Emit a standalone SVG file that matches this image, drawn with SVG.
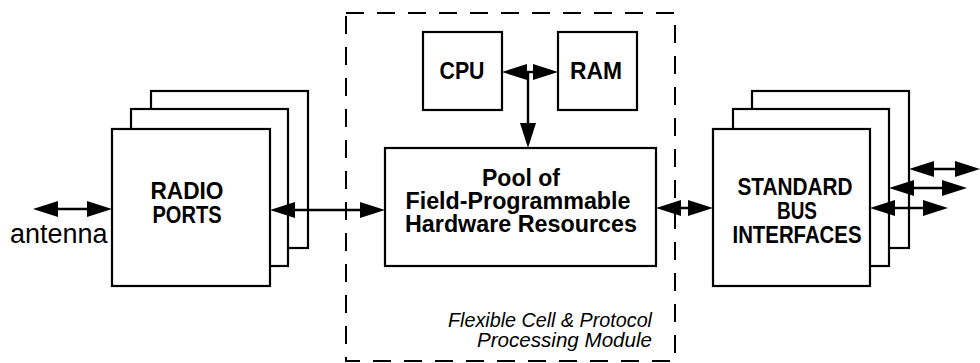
<svg xmlns="http://www.w3.org/2000/svg" width="980" height="363" viewBox="0 0 980 363">
<style>
.box{fill:#fff;stroke:#000;stroke-width:2.2}
.dash{fill:none;stroke:#000;stroke-width:2;stroke-dasharray:18 13}
.lbl{font-family:"Liberation Sans",Arial,sans-serif;font-weight:bold;font-size:23px;fill:#000;text-anchor:middle}
.it{font-family:"Liberation Sans",Arial,sans-serif;font-style:italic;font-size:19.5px;fill:#000;text-anchor:end}
.plain{font-family:"Liberation Sans",Arial,sans-serif;font-size:27px;fill:#000}
.conn line{stroke:#000;stroke-width:2.4}
.conn use{fill:#000}
</style>
<defs>
<path id="head" d="M0,0 L-25,-8 L-25,8 z"/>
</defs>
<rect class="dash" x="346" y="13" width="329" height="348"/>
<g id="radio-ports">
<rect class="box" x="151" y="91" width="157" height="157"/>
<rect class="box" x="131" y="109" width="157" height="157"/>
<rect class="box" x="112" y="129" width="158" height="157"/>
<text class="lbl" x="187" y="199" textLength="73" lengthAdjust="spacingAndGlyphs">RADIO</text>
<text class="lbl" x="187" y="223" textLength="69" lengthAdjust="spacingAndGlyphs">PORTS</text>
</g>
<g id="antenna">
<text class="plain" x="10" y="243">antenna</text>
</g>
<g id="cpu">
<rect class="box" x="423" y="32" width="79" height="78"/>
<text class="lbl" x="462" y="79" textLength="45" lengthAdjust="spacingAndGlyphs">CPU</text>
</g>
<g id="ram">
<rect class="box" x="558" y="32" width="79" height="78"/>
<text class="lbl" x="596" y="79" textLength="52" lengthAdjust="spacingAndGlyphs">RAM</text>
</g>
<g id="pool">
<rect class="box" x="385" y="148" width="271" height="118"/>
<text class="lbl" x="521" y="186" textLength="78" lengthAdjust="spacingAndGlyphs">Pool of</text>
<text class="lbl" x="518" y="209" textLength="225" lengthAdjust="spacingAndGlyphs">Field-Programmable</text>
<text class="lbl" x="521" y="232" textLength="232" lengthAdjust="spacingAndGlyphs">Hardware Resources</text>
</g>
<g id="module-label">
<text class="it" x="652" y="327" textLength="204" lengthAdjust="spacingAndGlyphs">Flexible Cell &amp; Protocol</text>
<text class="it" x="652" y="347" textLength="175" lengthAdjust="spacingAndGlyphs">Processing Module</text>
</g>
<g id="bus-interfaces">
<rect class="box" x="752" y="91" width="157" height="157"/>
<rect class="box" x="733" y="109" width="156" height="157"/>
<rect class="box" x="713" y="129" width="157" height="157"/>
<text class="lbl" x="795" y="195" textLength="115" lengthAdjust="spacingAndGlyphs">STANDARD</text>
<text class="lbl" x="797" y="219" textLength="40" lengthAdjust="spacingAndGlyphs">BUS</text>
<text class="lbl" x="797" y="243" textLength="129" lengthAdjust="spacingAndGlyphs">INTERFACES</text>
</g>
<g id="connectors" class="conn">
<line x1="45" y1="209" x2="100" y2="209"/>
<use href="#head" transform="translate(33,209) rotate(180)"/>
<use href="#head" transform="translate(112,209)"/>
<line x1="282" y1="210" x2="373" y2="210"/>
<use href="#head" transform="translate(270,210) rotate(180)"/>
<use href="#head" transform="translate(385,210)"/>
<line x1="514" y1="72" x2="546" y2="72"/>
<use href="#head" transform="translate(502,72) rotate(180)"/>
<use href="#head" transform="translate(558,72)"/>
<line x1="528" y1="72" x2="528" y2="136"/>
<use href="#head" transform="translate(528,148) rotate(90)"/>
<line x1="668" y1="208" x2="701" y2="208"/>
<use href="#head" transform="translate(656,208) rotate(180)"/>
<use href="#head" transform="translate(713,208)"/>
<line x1="921" y1="169" x2="968" y2="169"/>
<use href="#head" transform="translate(909,169) rotate(180)"/>
<use href="#head" transform="translate(980,169)"/>
<line x1="901" y1="188" x2="955" y2="188"/>
<use href="#head" transform="translate(889,188) rotate(180)"/>
<use href="#head" transform="translate(967,188)"/>
<line x1="882" y1="208" x2="936" y2="208"/>
<use href="#head" transform="translate(870,208) rotate(180)"/>
<use href="#head" transform="translate(948,208)"/>
</g>
</svg>
